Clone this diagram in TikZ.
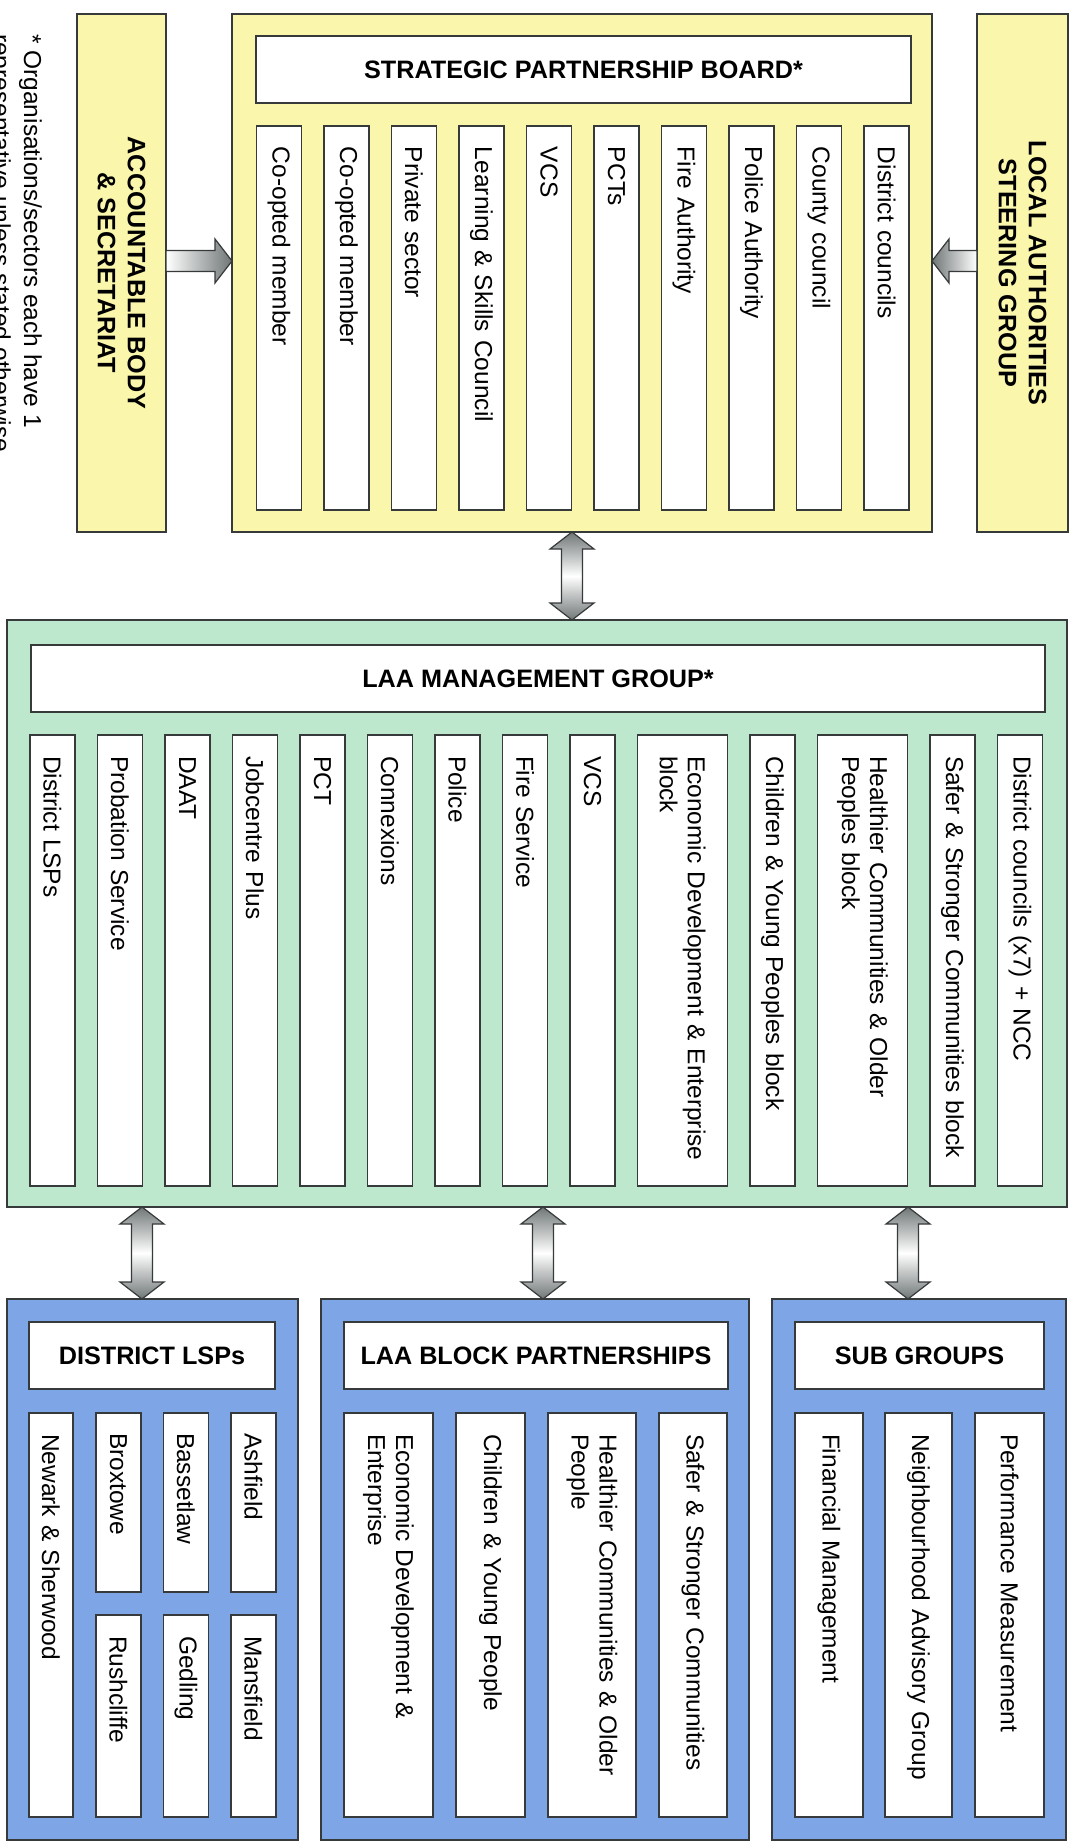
\documentclass[tikz,border=0pt]{standalone}
\usepackage{fontspec}
\setmainfont{Liberation Sans}
\usetikzlibrary{calc}

\definecolor{boardyellow}{RGB}{250,246,172}
\definecolor{mgmtgreen}{RGB}{190,232,205}
\definecolor{lspblue}{RGB}{126,166,230}
\definecolor{edgegray}{RGB}{55,58,58}
\definecolor{arrowgray}{RGB}{112,118,118}

\newcommand{\txtsize}{\fontsize{24.5}{28}\selectfont}
\newcommand{\hdsize}{\bfseries\fontsize{25.2}{30}\selectfont}

% block arrow with one head, from #2 to #3
\newcommand{\onearrow}[3]{%
  \coordinate (hb) at ($(#3)!17pt!(#2)$);
  \path [#1] ($(#2)!10.5pt!90:(#3)$) -- ($(hb)!10.5pt!90:(#3)$) -- ($(hb)!22pt!90:(#3)$) -- (#3)
    -- ($(hb)!22pt!-90:(#3)$) -- ($(hb)!10.5pt!-90:(#3)$) -- ($(#2)!10.5pt!-90:(#3)$) -- cycle;}
% block arrow with two heads
\newcommand{\twoarrow}[3]{%
  \coordinate (hb) at ($(#3)!17pt!(#2)$);
  \coordinate (ht) at ($(#2)!17pt!(#3)$);
  \path [#1] (#2) -- ($(ht)!22pt!90:(#3)$) -- ($(ht)!10.5pt!90:(#3)$) -- ($(hb)!10.5pt!90:(#3)$)
    -- ($(hb)!22pt!90:(#3)$) -- (#3) -- ($(hb)!22pt!-90:(#3)$) -- ($(hb)!10.5pt!-90:(#3)$)
    -- ($(ht)!10.5pt!-90:(#3)$) -- ($(ht)!22pt!-90:(#3)$) -- cycle;}

\begin{document}
\begin{tikzpicture}[x=1pt, y=-1pt,
  lspbox/.style={draw=edgegray, line width=1.6pt, inner sep=0pt, outer sep=0pt},
  headbox/.style={lspbox, fill=white, minimum height=67pt, font=\hdsize},
  sidebox/.style={lspbox, fill=boardyellow, rotate=-90, align=center, font=\hdsize, minimum width=518pt},
  colbox/.style={lspbox, fill=white, rotate=-90, align=left, font=\txtsize, minimum height=45pt},
  spcol/.style={colbox, minimum width=384pt, text width=342pt},
  laacol/.style={colbox, minimum width=451pt, text width=409pt},
  lspcol/.style={colbox, minimum width=404pt, text width=362pt},
  topcol/.style={colbox, minimum width=179pt, text width=139pt},
  lowcol/.style={colbox, minimum width=202pt, text width=160pt},
  rightway/.style={draw=edgegray, line width=1.2pt, left color=white, right color=arrowgray},
  leftway/.style={draw=edgegray, line width=1.2pt, left color=arrowgray, right color=white},
  twoway/.style={draw=edgegray, line width=1.2pt, top color=arrowgray, bottom color=arrowgray, middle color=white}]

  \path [use as bounding box, fill=white] (0,0) rectangle (1080,1843);

  % footnote
  \node (note) [rotate=-90, anchor=north west, inner sep=0pt, align=left, font=\fontsize{24.5}{31}\selectfont] at (42,34) {* Organisations/sectors each have 1\\representative unless stated otherwise};

  % strategic partnership board
  \node (acc) [sidebox, minimum height=89pt] at (121.5,273) {ACCOUNTABLE BODY\\\& SECRETARIAT};
  \node (loc) [sidebox, minimum height=91pt] at (1022.5,273) {LOCAL AUTHORITIES\\STEERING GROUP};
  \node (spb) [lspbox, fill=boardyellow, minimum width=700pt, minimum height=518pt] at (582,273) {};
  \node (spbhead) [headbox, minimum width=655pt] at (583.5,69.5) {STRATEGIC PARTNERSHIP BOARD*};
  \node (sp1) [spcol] at (279,318) {Co-opted member};
  \node (sp2) [spcol] at (346.5,318) {Co-opted member};
  \node (sp3) [spcol] at (414,318) {Private sector};
  \node (sp4) [spcol] at (481.5,318) {Learning \& Skills Council};
  \node (sp5) [spcol] at (549,318) {VCS};
  \node (sp6) [spcol] at (616.5,318) {PCTs};
  \node (sp7) [spcol] at (684,318) {Fire Authority};
  \node (sp8) [spcol] at (751.5,318) {Police Authority};
  \node (sp9) [spcol] at (819,318) {County council};
  \node (sp10) [spcol] at (886.5,318) {District councils};

  % LAA management group
  \node (laa) [lspbox, fill=mgmtgreen, minimum width=1060pt, minimum height=587pt] at (537,913.5) {};
  \node (laahead) [headbox, minimum width=1014pt] at (538,678.5) {LAA MANAGEMENT GROUP*};
  \node (la1) [laacol] at (52.5,960.5) {District LSPs};
  \node (la2) [laacol] at (120,960.5) {Probation Service};
  \node (la3) [laacol] at (187.5,960.5) {DAAT};
  \node (la4) [laacol] at (255,960.5) {Jobcentre Plus};
  \node (la5) [laacol] at (322.5,960.5) {PCT};
  \node (la6) [laacol] at (390,960.5) {Connexions};
  \node (la7) [laacol] at (457.5,960.5) {Police};
  \node (la8) [laacol] at (525,960.5) {Fire Service};
  \node (la9) [laacol] at (592.5,960.5) {VCS};
  \node (la10) [laacol, minimum height=90pt] at (682.5,960.5) {Economic Development \& Enterprise\\block};
  \node (la11) [laacol] at (772.5,960.5) {Children \& Young Peoples block};
  \node (la12) [laacol, minimum height=90pt] at (862.5,960.5) {Healthier Communities \& Older\\Peoples block};
  \node (la13) [laacol] at (952.5,960.5) {Safer \& Stronger Communities block};
  \node (la14) [laacol] at (1020,960.5) {District councils (x7) + NCC};

  % district LSPs
  \node (dlsp) [lspbox, fill=lspblue, minimum width=291pt, minimum height=541pt] at (152.5,1569.5) {};
  \node (dlsphead) [headbox, minimum width=246pt] at (152,1355.5) {DISTRICT LSPs};
  \node (ds1) [lspcol, minimum height=44pt] at (51,1615) {Newark \& Sherwood};
  \node (ds2) [topcol] at (118.5,1502.5) {Broxtowe};
  \node (ds3) [topcol] at (186,1502.5) {Bassetlaw};
  \node (ds4) [topcol] at (253.5,1502.5) {Ashfield};
  \node (ds5) [lowcol] at (118.5,1716) {Rushcliffe};
  \node (ds6) [lowcol] at (186,1716) {Gedling};
  \node (ds7) [lowcol] at (253.5,1716) {Mansfield};

  % LAA block partnerships
  \node (blk) [lspbox, fill=lspblue, minimum width=428pt, minimum height=541pt] at (535,1569.5) {};
  \node (blkhead) [headbox, minimum width=384pt] at (536,1355.5) {LAA BLOCK PARTNERSHIPS};
  \node (bk1) [lspcol, minimum height=89pt] at (388.5,1615) {Economic Development \&\\Enterprise};
  \node (bk2) [lspcol, minimum height=69pt] at (490.5,1615) {Children \& Young People};
  \node (bk3) [lspcol, minimum height=88pt] at (592,1615) {Healthier Communities \& Older\\People};
  \node (bk4) [lspcol, minimum height=68pt] at (693,1615) {Safer \& Stronger Communities};

  % sub groups
  \node (sub) [lspbox, fill=lspblue, minimum width=294pt, minimum height=541pt] at (919,1569.5) {};
  \node (subhead) [headbox, minimum width=249pt] at (919.5,1355.5) {SUB GROUPS};
  \node (sg1) [lspcol, minimum height=68pt] at (829,1615) {Financial Management};
  \node (sg2) [lspcol, minimum height=67pt] at (918.5,1615) {Neighbourhood Advisory Group};
  \node (sg3) [lspcol, minimum height=69pt] at (1009.5,1615) {Performance Measurement};

  % arrows (side boxes are turned, so their north/south face right/left)
  \coordinate (a1) at (acc.north |- 0,261);
  \coordinate (a2) at (spb.west |- 0,261);
  \onearrow{rightway}{a1}{a2}
  \coordinate (a3) at (loc.south |- 0,261);
  \coordinate (a4) at (spb.east |- 0,261);
  \onearrow{leftway}{a3}{a4}
  \coordinate (b1) at (spb.south -| 572,0);
  \coordinate (b2) at (laa.north -| 572,0);
  \twoarrow{twoway}{b1}{b2}
  \coordinate (c1) at (laa.south -| 142,0);
  \coordinate (c2) at (dlsp.north -| 142,0);
  \twoarrow{twoway}{c1}{c2}
  \coordinate (d1) at (laa.south -| 543,0);
  \coordinate (d2) at (blk.north -| 543,0);
  \twoarrow{twoway}{d1}{d2}
  \coordinate (e1) at (laa.south -| 908,0);
  \coordinate (e2) at (sub.north -| 908,0);
  \twoarrow{twoway}{e1}{e2}
\end{tikzpicture}
\end{document}
